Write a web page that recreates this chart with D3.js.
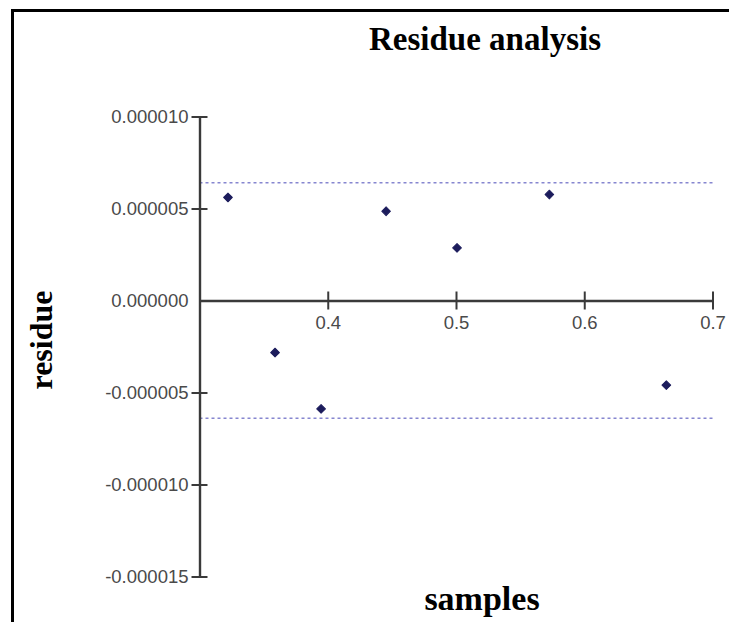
<!DOCTYPE html>
<html>
<head>
<meta charset="utf-8">
<script src="https://cdn.jsdelivr.net/npm/d3@7"></script>
<style>
  html, body { margin: 0; padding: 0; background: #fff; }
  svg { display: block; }
</style>
</head>
<body>
<svg id="chart" width="729" height="622"></svg>
<script>
// ---- data ----
const sampleX = [0.3222, 0.3589, 0.3948, 0.4455, 0.5008, 0.5728, 0.6640];
const residueY = [5.6e-6, -2.83e-6, -5.89e-6, 4.85e-6, 2.86e-6, 5.76e-6, -4.60e-6];
const limitLines = [6.4e-6, -6.4e-6];
const xTicks = [0.4, 0.5, 0.6, 0.7];
const yTicks = [0.00001, 0.000005, 0, -0.000005, -0.00001, -0.000015];
const yTickLabels = ["0.000010", "0.000005", "0.000000", "-0.000005", "-0.000010", "-0.000015"];
const titleText = "Residue analysis";
const xTitle = "samples";
const yTitle = "residue";

const svg = d3.select("#chart");

// frame (left and top border)
svg.append("path")
  .attr("d", "M12.5,622 V10.5 H729")
  .attr("fill", "none")
  .attr("stroke", "#000")
  .attr("stroke-width", 3);

const x = d3.scaleLinear().domain([0.3, 0.7]).range([199.5, 712.5]);
const y = d3.scaleLinear().domain([-0.000015, 0.00001]).range([576.5, 116.5]);

// limit lines
svg.append("g").selectAll("line").data(limitLines).join("line")
  .attr("x1", x(0.3)).attr("x2", x(0.7))
  .attr("y1", d => y(d)).attr("y2", d => y(d))
  .attr("stroke", "#8686d0")
  .attr("stroke-width", 1.6)
  .attr("stroke-dasharray", "3,3");

// y axis
const yAxis = svg.append("g")
  .attr("transform", `translate(${x(0.3)},0)`)
  .call(d3.axisLeft(y).tickValues(yTicks)
    .tickFormat((d, i) => yTickLabels[i])
    .tickSizeInner(8).tickSizeOuter(0).tickPadding(3));
yAxis.select(".domain").attr("stroke", "#3a3a3a").attr("stroke-width", 2.4);
yAxis.selectAll(".tick line").attr("x1", 8).attr("stroke", "#3a3a3a").attr("stroke-width", 2)
  .filter(d => d === 0).remove();
yAxis.selectAll(".tick text")
  .attr("font-family", "Liberation Sans, Arial, sans-serif")
  .attr("font-size", 18.5)
  .attr("fill", "#4a4a4a");

// x axis
const xAxis = svg.append("g")
  .attr("transform", `translate(0,${y(0)})`)
  .call(d3.axisBottom(x).tickValues(xTicks)
    .tickFormat(d3.format(".1f"))
    .tickSizeInner(9).tickSizeOuter(0).tickPadding(6));
xAxis.select(".domain").attr("stroke", "#3a3a3a").attr("stroke-width", 2.4);
xAxis.selectAll(".tick line").attr("y1", -9).attr("stroke", "#3a3a3a").attr("stroke-width", 2);
xAxis.selectAll(".tick text")
  .attr("font-family", "Liberation Sans, Arial, sans-serif")
  .attr("font-size", 18.5)
  .attr("fill", "#4a4a4a");

// points (square diamonds)
const pts = sampleX.map((v, i) => ({ x: v, y: residueY[i] }));
svg.append("g").selectAll("path").data(pts).join("path")
  .attr("transform", d => `translate(${x(d.x)},${y(d.y)}) rotate(45)`)
  .attr("d", d3.symbol().type(d3.symbolSquare).size(38))
  .attr("fill", "#1c1c5c")
  .attr("stroke", "#1c1c5c")
  .attr("stroke-width", 1)
  .attr("stroke-linejoin", "round");

// titles
svg.append("text")
  .attr("x", 485).attr("y", 50)
  .attr("text-anchor", "middle")
  .attr("font-family", "Liberation Serif, Times New Roman, serif")
  .attr("font-weight", "bold")
  .attr("font-size", 33)
  .text(titleText);

svg.append("text")
  .attr("x", 482).attr("y", 610)
  .attr("text-anchor", "middle")
  .attr("font-family", "Liberation Serif, Times New Roman, serif")
  .attr("font-weight", "bold")
  .attr("font-size", 34)
  .text(xTitle);

svg.append("text")
  .attr("transform", "translate(52,340) rotate(-90)")
  .attr("text-anchor", "middle")
  .attr("font-family", "Liberation Serif, Times New Roman, serif")
  .attr("font-weight", "bold")
  .attr("font-size", 32)
  .text(yTitle);
</script>
</body>
</html>
